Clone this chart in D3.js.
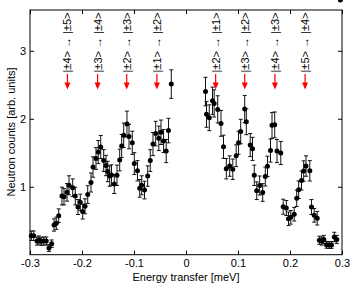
<!DOCTYPE html>
<html><head><meta charset="utf-8">
<script src="https://cdn.jsdelivr.net/npm/d3@7"></script>
<style>body{margin:0;background:#fff}svg{display:block}text{font-family:"Liberation Sans",Arial,Helvetica,sans-serif}</style>
</head><body><svg id="c" width="354" height="288"></svg>
<script>
const energy = [-0.2975,-0.2929,-0.2865,-0.2827,-0.2783,-0.2737,-0.2687,-0.2635,-0.2583,-0.2538,-0.2494,-0.2448,-0.2385,-0.2346,-0.2288,-0.2250,-0.2179,-0.2129,-0.2077,-0.2033,-0.1987,-0.1942,-0.1890,-0.1827,-0.1788,-0.1731,-0.1687,-0.1640,-0.1583,-0.1538,-0.1506,-0.1467,-0.1433,-0.1379,-0.1327,-0.1275,-0.1237,-0.1198,-0.1135,-0.1096,-0.1033,-0.0994,-0.0933,-0.0890,-0.0852,-0.0798,-0.0737,-0.0687,-0.0635,-0.0583,-0.0523,-0.0481,-0.0431,-0.0381,-0.0337,-0.0283,
0.0375,0.0394,0.0448,0.0510,0.0542,0.0610,0.0673,0.0721,0.0775,0.0840,0.0900,0.0965,0.1010,0.1052,0.1129,0.1160,0.1235,0.1279,0.1313,0.1360,0.1417,0.1475,0.1525,0.1567,0.1625,0.1654,0.1706,0.1750,0.1823,0.1869,0.1929,0.1971,0.2015,0.2081,0.2129,0.2167,0.2221,0.2263,0.2308,0.2381,0.2413,0.2465,0.2523,0.2565,0.2610,0.2650,0.2702,0.2750,0.2798,0.2852,0.2900,0.2969];
const counts = [0.279,0.279,0.201,0.216,0.197,0.201,0.201,0.098,0.162,0.437,0.462,0.574,0.863,0.853,0.918,1.021,0.985,0.863,0.701,0.771,0.635,0.712,0.885,1.062,1.290,1.415,1.510,1.584,1.385,1.312,1.224,1.157,1.172,1.040,1.168,1.393,1.599,1.756,1.922,1.738,1.647,1.341,1.235,0.976,1.021,0.951,1.157,1.385,1.628,1.782,1.712,1.801,1.672,1.525,1.826,2.510,
2.400,2.065,2.015,2.265,2.226,2.138,1.932,1.588,1.265,1.304,1.257,1.456,1.647,1.812,2.143,1.956,1.613,1.557,1.168,0.941,1.018,0.915,1.150,1.300,1.532,1.903,1.910,1.525,1.496,0.706,0.687,0.528,0.550,0.596,0.829,0.956,1.091,1.231,1.304,1.234,0.701,0.579,0.537,0.213,0.201,0.224,0.146,0.143,0.143,0.260,0.224];
const errors = [0.07,0.07,0.06,0.06,0.06,0.06,0.06,0.05,0.055,0.09,0.09,0.10,0.13,0.12,0.13,0.14,0.13,0.13,0.11,0.12,0.11,0.11,0.13,0.14,0.15,0.16,0.17,0.17,0.16,0.15,0.15,0.15,0.15,0.14,0.15,0.16,0.17,0.18,0.19,0.18,0.17,0.16,0.15,0.13,0.14,0.13,0.15,0.16,0.17,0.18,0.18,0.18,0.17,0.17,0.18,0.21,
0.21,0.19,0.19,0.20,0.20,0.20,0.19,0.17,0.15,0.15,0.15,0.16,0.17,0.18,0.20,0.19,0.17,0.17,0.15,0.13,0.14,0.13,0.14,0.15,0.17,0.19,0.19,0.17,0.17,0.11,0.11,0.10,0.10,0.10,0.12,0.13,0.14,0.15,0.15,0.15,0.11,0.10,0.10,0.06,0.06,0.06,0.05,0.05,0.05,0.07,0.06];
const xTicks = [-0.3,-0.2,-0.1,0,0.1,0.2,0.3];
const xTickLabels = ["-0.3","-0.2","-0.1","0","0.1","0.2","0.3"];
const yTicks = [1,2,3];
const transPos = [-0.228,-0.170,-0.114,-0.056,0.057,0.113,0.171,0.229];
const transLabels = ["|±4> → |±5>","|±3> → |±4>","|±2> → |±3>","|±1> → |±2>","|±2> → |±1>","|±3> → |±2>","|±4> → |±3>","|±5> → |±4>"];

const svg = d3.select("#c");
const L=30,R=342,T=10,B=254.7;
const x = d3.scaleLinear().domain([-0.3,0.3]).range([L,R]);
const y = d3.scaleLinear().domain([0,3.6]).range([B,T]);
const fs = "11px";

const gx = svg.append("g").attr("transform",`translate(0,${B})`)
  .call(d3.axisBottom(x).tickValues(xTicks).tickFormat((d,i)=>xTickLabels[i]).tickSizeInner(-4).tickSizeOuter(0).tickPadding(5));
const gxt = svg.append("g").attr("transform",`translate(0,${T})`)
  .call(d3.axisTop(x).tickValues(xTicks).tickFormat("").tickSizeInner(-4).tickSizeOuter(0));
const gy = svg.append("g").attr("transform",`translate(${L},0)`)
  .call(d3.axisLeft(y).tickValues(yTicks).tickFormat(d3.format("d")).tickSizeInner(-4).tickSizeOuter(0).tickPadding(4));
const gyr = svg.append("g").attr("transform",`translate(${R},0)`)
  .call(d3.axisRight(y).tickValues(yTicks).tickFormat("").tickSizeInner(-4).tickSizeOuter(0));
[gx,gxt,gy,gyr].forEach(g=>{g.select(".domain").remove();g.selectAll("text").attr("font-size",fs).attr("font-family","Liberation Sans, Arial").attr("fill","#000");g.selectAll("line").attr("stroke","#000");});
svg.append("rect").attr("x",L).attr("y",T).attr("width",R-L).attr("height",B-T).attr("fill","none").attr("stroke","#000").attr("stroke-width",1);

// transitions annotations
const ann = svg.append("g");
transPos.forEach((p,i)=>{
  ann.append("text").attr("transform",`translate(${x(p)+4},42.5) rotate(-90)`)
    .attr("text-anchor","middle").attr("font-size",fs).attr("fill","#000").text(transLabels[i]);
  ann.append("line").attr("x1",x(p)).attr("x2",x(p)).attr("y1",74).attr("y2",84).attr("stroke","#f00").attr("stroke-width",1.2);
  ann.append("path").attr("d",`M${x(p)-3},82.5L${x(p)+3},82.5L${x(p)},89.5Z`).attr("fill","#f00");
});

// error bars and points
const data = energy.map((e,i)=>({e,c:counts[i],s:errors[i]}));
const eb = svg.append("g").attr("stroke","#111").attr("stroke-width",1);
data.forEach(d=>{
  const cx=x(d.e), y1=y(d.c+d.s), y2=y(d.c-d.s);
  eb.append("line").attr("x1",cx).attr("x2",cx).attr("y1",y1).attr("y2",y2);
  eb.append("line").attr("x1",cx-2).attr("x2",cx+2).attr("y1",y1).attr("y2",y1);
  eb.append("line").attr("x1",cx-2).attr("x2",cx+2).attr("y1",y2).attr("y2",y2);
});
svg.append("g").selectAll("circle").data(data).join("circle")
  .attr("cx",d=>x(d.e)).attr("cy",d=>y(d.c)).attr("r",2.5).attr("fill","#000");

svg.append("text").attr("x",186).attr("y",281).attr("text-anchor","middle").attr("font-size",fs).text("Energy transfer [meV]");
svg.append("text").attr("transform","translate(15,132) rotate(-90)").attr("text-anchor","middle").attr("font-size",fs).text("Neutron counts [arb. units]");
</script></body></html>
